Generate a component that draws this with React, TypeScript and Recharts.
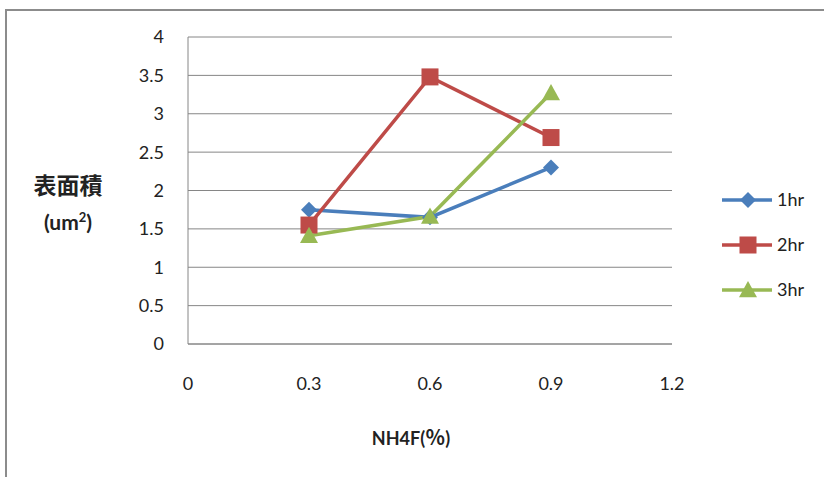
import { useEffect } from "react";
import { LineChart, Line, XAxis, YAxis, CartesianGrid } from "recharts";

// NH4F concentration (%) and surface area (um²) per etching time
const concentrations = [0.3, 0.6, 0.9];
const area1hr = [1.75, 1.65, 2.3];
const area2hr = [1.55, 3.48, 2.69];
const area3hr = [1.41, 1.66, 3.27];

const xTicks = [0, 0.3, 0.6, 0.9, 1.2];
const yTicks = [0, 0.5, 1, 1.5, 2, 2.5, 3, 3.5, 4];

const seriesInfo = [
  { key: "h1", name: "1hr", color: "#4a7ebb", shape: "diamond" },
  { key: "h2", name: "2hr", color: "#be4b48", shape: "square" },
  { key: "h3", name: "3hr", color: "#98b954", shape: "triangle" },
];

const chartData = concentrations.map((x, i) => ({
  x,
  h1: area1hr[i],
  h2: area2hr[i],
  h3: area3hr[i],
}));

const FONT = "Lato, 'Open Sans', sans-serif";
const CJK = "'Noto Sans CJK TC', sans-serif";

function Marker({ shape, color, cx, cy }: { shape: string; color: string; cx: number; cy: number }) {
  if (shape === "diamond") {
    const r = 8;
    return <path d={`M${cx},${cy - r}L${cx + r},${cy}L${cx},${cy + r}L${cx - r},${cy}Z`} fill={color} />;
  }
  if (shape === "square") {
    const r = 8.5;
    return <rect x={cx - r} y={cy - r} width={r * 2} height={r * 2} fill={color} />;
  }
  const r = 9;
  return <path d={`M${cx},${cy - r}L${cx + r},${cy + r * 0.8}L${cx - r},${cy + r * 0.8}Z`} fill={color} />;
}

const makeDot = (shape: string, color: string) => (props: any) => {
  const { cx, cy, index } = props;
  if (cx == null || cy == null) return <g key={index} />;
  return <Marker key={index} shape={shape} color={color} cx={cx} cy={cy} />;
};

function LegendBox() {
  return (
    <svg width={100} height={120} style={{ position: "absolute", left: 720, top: 188 }}>
      {seriesInfo.map((s, i) => {
        const y = 12 + i * 45;
        return (
          <g key={s.key}>
            <line x1={2} x2={52} y1={y} y2={y} stroke={s.color} strokeWidth={3.5} />
            <Marker shape={s.shape} color={s.color} cx={28} cy={y} />
            <text x={57} y={y + 6} fontSize={18} fill="#222" fontFamily={FONT}>
              {s.name}
            </text>
          </g>
        );
      })}
    </svg>
  );
}

export default function App() {
  useEffect(() => {
    document.body.style.margin = "0";
  }, []);

  return (
    <div style={{ position: "relative", width: 824, height: 477, background: "#fff", overflow: "hidden" }}>
      <div
        style={{
          position: "absolute",
          left: 5,
          top: 9,
          width: 830,
          height: 480,
          borderLeft: "2px solid #8c8c8c",
          borderTop: "2px solid #8c8c8c",
        }}
      />
      <LineChart
        width={824}
        height={477}
        data={chartData}
        margin={{ top: 37, right: 152, left: 0, bottom: 0 }}
        style={{ position: "absolute", left: 0, top: 0 }}
      >
        <CartesianGrid horizontal vertical={false} stroke="#868686" strokeWidth={1} />
        <XAxis
          dataKey="x"
          type="number"
          domain={[0, 1.2]}
          ticks={xTicks}
          tickFormatter={(v: number) => String(v)}
          tickLine={false}
          tickSize={0}
          tickMargin={33}
          axisLine={{ stroke: "#868686" }}
          tick={{ fill: "#222", fontSize: 18, fontFamily: FONT }}
          height={133}
          interval={0}
        />
        <YAxis
          type="number"
          domain={[0, 4]}
          ticks={yTicks}
          tickLine={false}
          tickSize={0}
          tickMargin={24}
          width={188}
          axisLine={{ stroke: "#868686" }}
          tick={{ fill: "#222", fontSize: 18, fontFamily: FONT }}
          interval={0}
        />
        {seriesInfo.map((s) => (
          <Line
            key={s.key}
            dataKey={s.key}
            name={s.name}
            type="linear"
            stroke={s.color}
            strokeWidth={3.5}
            dot={makeDot(s.shape, s.color)}
            activeDot={false}
            isAnimationActive={false}
          />
        ))}
      </LineChart>
      <LegendBox />
      <div
        style={{
          position: "absolute",
          left: 22,
          top: 170,
          width: 92,
          textAlign: "center",
          fontWeight: 700,
          color: "#222",
          fontSize: 23,
          fontFamily: CJK,
          lineHeight: "28px",
        }}
      >
        表面積
      </div>
      <div
        style={{
          position: "absolute",
          left: 22,
          top: 203,
          width: 92,
          textAlign: "center",
          fontWeight: 700,
          color: "#222",
          fontSize: 21,
          fontFamily: FONT,
          lineHeight: "28px",
        }}
      >
        (um<span style={{ fontSize: 13, verticalAlign: "8px" }}>2</span>)
      </div>
      <div
        style={{
          position: "absolute",
          left: 311,
          top: 422,
          width: 200,
          textAlign: "center",
          fontFamily: FONT,
          fontWeight: 700,
          fontSize: 18,
          color: "#222",
        }}
      >
        NH4F(<span style={{ fontFamily: CJK, fontSize: 20 }}>％</span>)
      </div>
    </div>
  );
}
